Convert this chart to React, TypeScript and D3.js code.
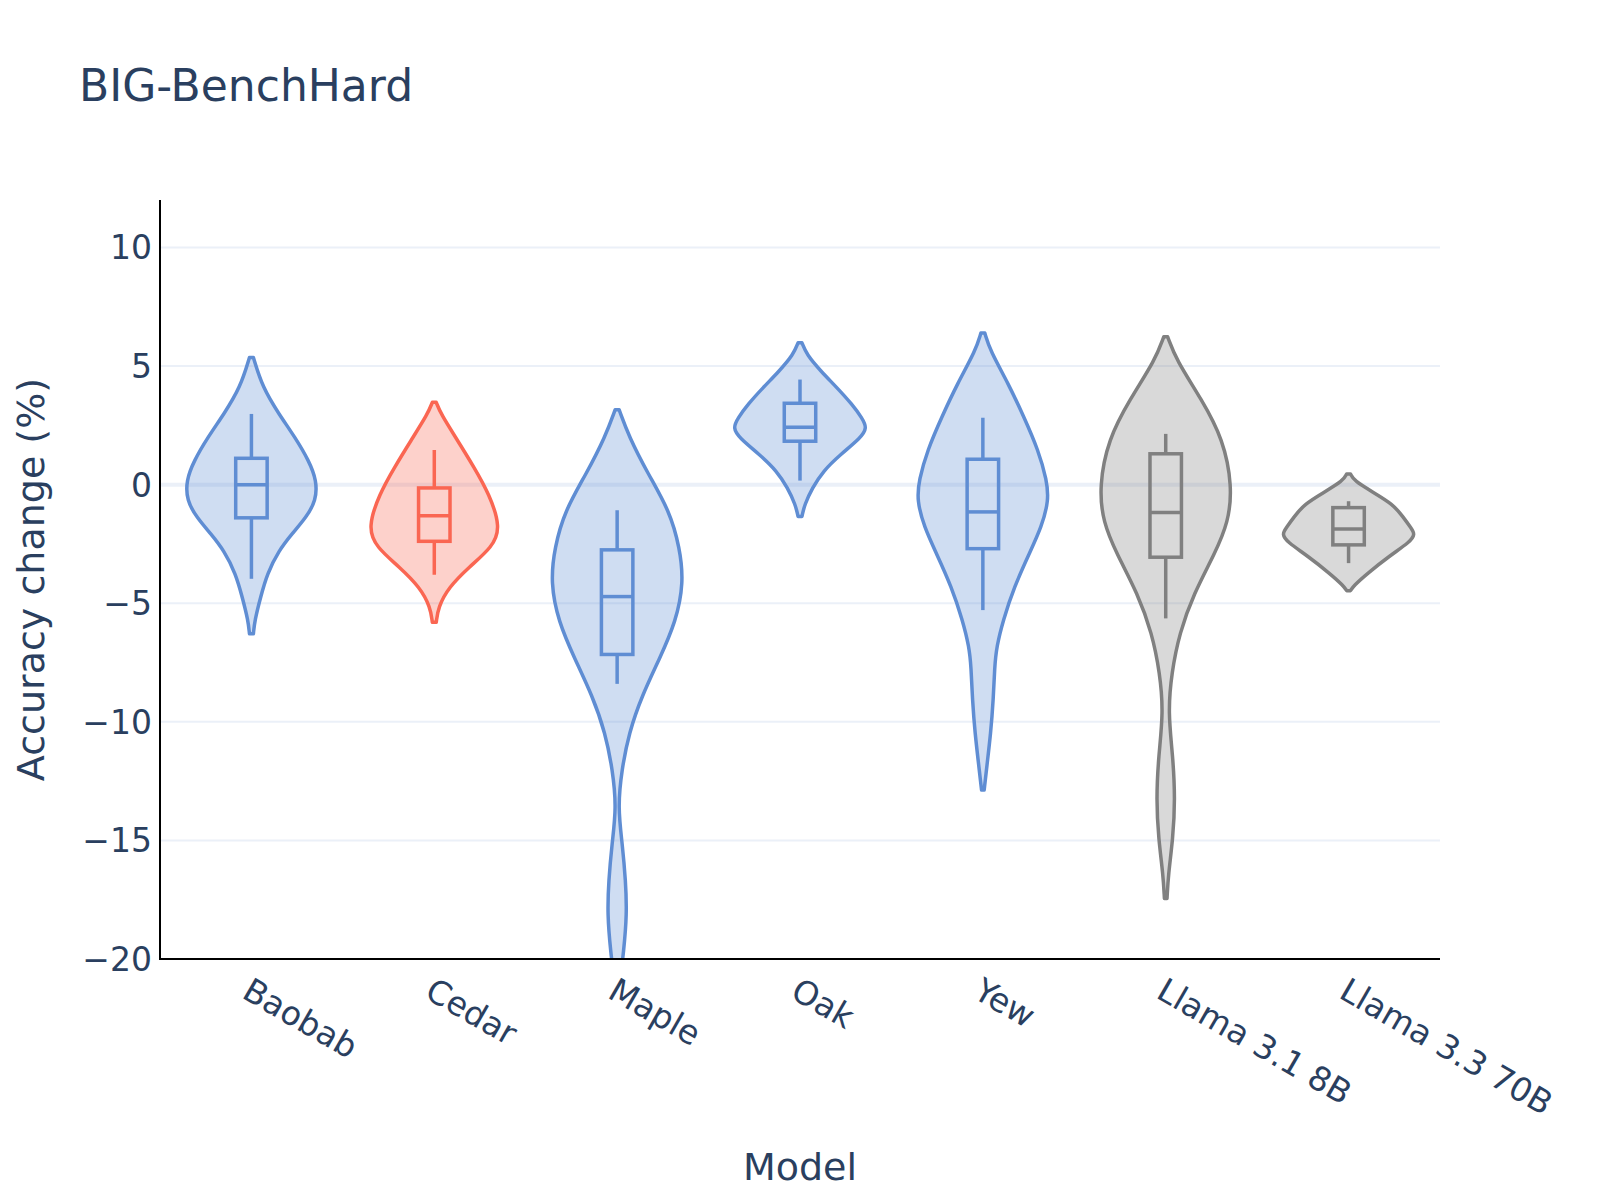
import React, { useRef, useEffect } from 'react'
import * as d3 from 'd3'

const models = ['Baobab', 'Cedar', 'Maple', 'Oak', 'Yew', 'Llama 3.1 8B', 'Llama 3.3 70B']
const modelColors = ['#5F8DD3', '#FA6652', '#5F8DD3', '#5F8DD3', '#5F8DD3', '#808080', '#808080']

// violin outlines: [accuracy change, relative half-width]
const baobabShape: [number, number][] = [
  [5.36, 0.03], [4.1, 0.17], [2.98, 0.42], [1.99, 0.67], [1.01, 0.88], [0.17, 1.0],
  [-0.67, 0.99], [-1.38, 0.84], [-2.08, 0.62], [-2.78, 0.42], [-3.76, 0.24], [-4.75, 0.14],
  [-5.73, 0.05], [-6.29, 0.03],
]
const cedarShape: [number, number][] = [
  [3.47, 0.03], [2.98, 0.1], [1.85, 0.36], [0.73, 0.61], [-0.39, 0.84], [-1.8, 1.02],
  [-2.64, 0.89], [-3.48, 0.53], [-4.33, 0.22], [-5.17, 0.06], [-5.8, 0.03],
]
const mapleShape: [number, number][] = [
  [3.16, 0.03], [2.03, 0.18], [0.47, 0.47], [-1.09, 0.8], [-2.66, 0.96], [-4.14, 1.02],
  [-5.78, 0.9], [-7.34, 0.65], [-8.9, 0.38], [-10.47, 0.18], [-12.03, 0.07], [-13.6, 0.01],
  [-15.16, 0.08], [-16.7, 0.13], [-18.1, 0.15], [-19.7, 0.1], [-21, 0.04],
]
const oakShape: [number, number][] = [
  [5.98, 0.03], [5.49, 0.1], [4.78, 0.32], [4.08, 0.57], [3.38, 0.8], [2.81, 0.95],
  [2.39, 1.03], [1.97, 0.93], [1.27, 0.62], [0.56, 0.35], [-0.14, 0.19], [-0.84, 0.07],
  [-1.34, 0.03],
]
const yewShape: [number, number][] = [
  [6.39, 0.03], [5.66, 0.11], [4.26, 0.39], [2.85, 0.63], [1.45, 0.85], [0.18, 0.98],
  [-0.66, 1.01], [-1.78, 0.9], [-2.91, 0.71], [-4.31, 0.48], [-5.72, 0.31], [-6.84, 0.21],
  [-7.68, 0.18], [-9.09, 0.16], [-10.49, 0.12], [-11.9, 0.06], [-12.88, 0.02],
]
const llama31Shape: [number, number][] = [
  [6.23, 0.03], [5.26, 0.16], [3.59, 0.55], [1.92, 0.88], [-0.08, 1.02], [-1.59, 0.96],
  [-2.92, 0.75], [-4.59, 0.43], [-6.26, 0.21], [-7.93, 0.09], [-9.6, 0.035], [-11.44, 0.11],
  [-13.27, 0.145], [-14.94, 0.11], [-16.44, 0.04], [-17.45, 0.02],
]
const llama33Shape: [number, number][] = [
  [0.45, 0.03], [0.17, 0.08], [-0.33, 0.38], [-0.83, 0.68], [-1.34, 0.83], [-1.84, 0.96],
  [-2.09, 1.02], [-2.42, 0.94], [-3.0, 0.63], [-3.76, 0.28], [-4.26, 0.08], [-4.47, 0.03],
]
const violinShapes = [baobabShape, cedarShape, mapleShape, oakShape, yewShape, llama31Shape, llama33Shape]

// inner box plots
const whiskerHigh = [2.98, 1.46, -1.08, 4.43, 2.82, 2.14, -0.7]
const q3 = [1.11, -0.14, -2.75, 3.43, 1.07, 1.3, -0.97]
const medians = [0.0, -1.31, -4.72, 2.42, -1.15, -1.17, -1.87]
const q1 = [-1.4, -2.39, -7.16, 1.83, -2.7, -3.06, -2.54]
const whiskerLow = [-3.97, -3.8, -8.4, 0.17, -5.29, -5.64, -3.31]

const yTicks = [-20, -15, -10, -5, 0, 5, 10]

const W = 1600
const H = 1200
const margin = { top: 200, right: 160, bottom: 241, left: 160 }
const FONT = '"DejaVu Sans", Verdana, sans-serif'
const TEXT = '#2a3f5f'

const App: React.FC = () => {
  const svgRef = useRef<SVGSVGElement>(null)

  useEffect(() => {
    if (!svgRef.current) return
    const svg = d3.select(svgRef.current)
    svg.selectAll('*').remove()

    const x0 = margin.left
    const x1 = W - margin.right
    const y0 = H - margin.bottom
    const yTop = margin.top

    const x = d3.scaleBand().domain(models).range([x0, x1]).padding(0)
    const y = d3.scaleLinear().domain([-20, 12]).range([y0, yTop])
    const halfW = d3.scaleLinear().domain([0, 1]).range([0, x.bandwidth() * 0.357])
    const boxHalf = x.bandwidth() * 0.086
    const fmt = d3.format('d')

    svg.append('rect').attr('width', W).attr('height', H).attr('fill', 'white')

    // title
    svg.append('text')
      .attr('x', 79).attr('y', 101)
      .style('font-family', FONT).style('font-size', '44px').style('fill', TEXT)
      .text('BIG-BenchHard')

    // grid
    svg.append('g')
      .selectAll('line')
      .data(yTicks.filter(t => t !== -20 && t !== 0))
      .join('line')
      .attr('x1', x0).attr('x2', x1)
      .attr('y1', d => y(d)).attr('y2', d => y(d))
      .attr('stroke', '#EBF0F8').attr('stroke-width', 2)

    svg.append('line')
      .attr('x1', x0).attr('x2', x1)
      .attr('y1', y(0)).attr('y2', y(0))
      .attr('stroke', '#EBF0F8').attr('stroke-width', 4)

    svg.append('clipPath').attr('id', 'plot-clip')
      .append('rect').attr('x', x0).attr('y', yTop).attr('width', x1 - x0).attr('height', y0 - yTop)

    const plot = svg.append('g').attr('clip-path', 'url(#plot-clip)')

    models.forEach((m, i) => {
      const cx = (x(m) || 0) + x.bandwidth() / 2
      const color = modelColors[i]
      const area = d3.area<[number, number]>()
        .y(d => y(d[0]))
        .x0(d => cx - halfW(d[1]))
        .x1(d => cx + halfW(d[1]))
        .curve(d3.curveBasis)

      plot.append('path')
        .attr('d', area(violinShapes[i]) || '')
        .attr('fill', color).attr('fill-opacity', 0.3)
        .attr('stroke', color).attr('stroke-width', 3.5)
        .attr('stroke-linejoin', 'round')

      const g = plot.append('g')
        .attr('stroke', color).attr('stroke-width', 3.5).attr('fill', 'none')
      g.append('line').attr('x1', cx).attr('x2', cx).attr('y1', y(whiskerHigh[i])).attr('y2', y(q3[i]))
      g.append('line').attr('x1', cx).attr('x2', cx).attr('y1', y(q1[i])).attr('y2', y(whiskerLow[i]))
      g.append('rect')
        .attr('x', cx - boxHalf).attr('width', boxHalf * 2)
        .attr('y', y(q3[i])).attr('height', y(q1[i]) - y(q3[i]))
      g.append('line').attr('x1', cx - boxHalf).attr('x2', cx + boxHalf)
        .attr('y1', y(medians[i])).attr('y2', y(medians[i]))
    })

    // axis lines
    svg.append('line').attr('x1', x0).attr('x2', x0).attr('y1', yTop).attr('y2', y0 + 1)
      .attr('stroke', 'black').attr('stroke-width', 2)
    svg.append('line').attr('x1', x0 - 1).attr('x2', x1).attr('y1', y0).attr('y2', y0)
      .attr('stroke', 'black').attr('stroke-width', 2)

    // y tick labels
    svg.append('g')
      .selectAll('text')
      .data(yTicks)
      .join('text')
      .attr('x', x0 - 8).attr('y', d => y(d)).attr('dy', '0.36em')
      .attr('text-anchor', 'end')
      .style('font-family', FONT).style('font-size', '33px').style('fill', TEXT)
      .text(d => fmt(d))

    // x tick labels
    svg.append('g')
      .selectAll('text')
      .data(models)
      .join('text')
      .attr('transform', d => `translate(${(x(d) || 0) + x.bandwidth() / 2 - 11},${y0 + 38}) rotate(30)`)
      .attr('text-anchor', 'start')
      .style('font-family', FONT).style('font-size', '33px').style('fill', TEXT)
      .text(d => d)

    // axis titles
    svg.append('text')
      .attr('x', (x0 + x1) / 2).attr('y', 1180)
      .attr('text-anchor', 'middle')
      .style('font-family', FONT).style('font-size', '38px').style('fill', TEXT)
      .text('Model')

    svg.append('text')
      .attr('transform', `translate(44,${(yTop + y0) / 2}) rotate(-90)`)
      .attr('text-anchor', 'middle')
      .style('font-family', FONT).style('font-size', '38px').style('fill', TEXT)
      .text('Accuracy change (%)')
  }, [])

  return (
    <div style={{ position: 'absolute', left: 0, top: 0 }}>
      <svg ref={svgRef} width={W} height={H} style={{ display: 'block' }} />
    </div>
  )
}

export default App
